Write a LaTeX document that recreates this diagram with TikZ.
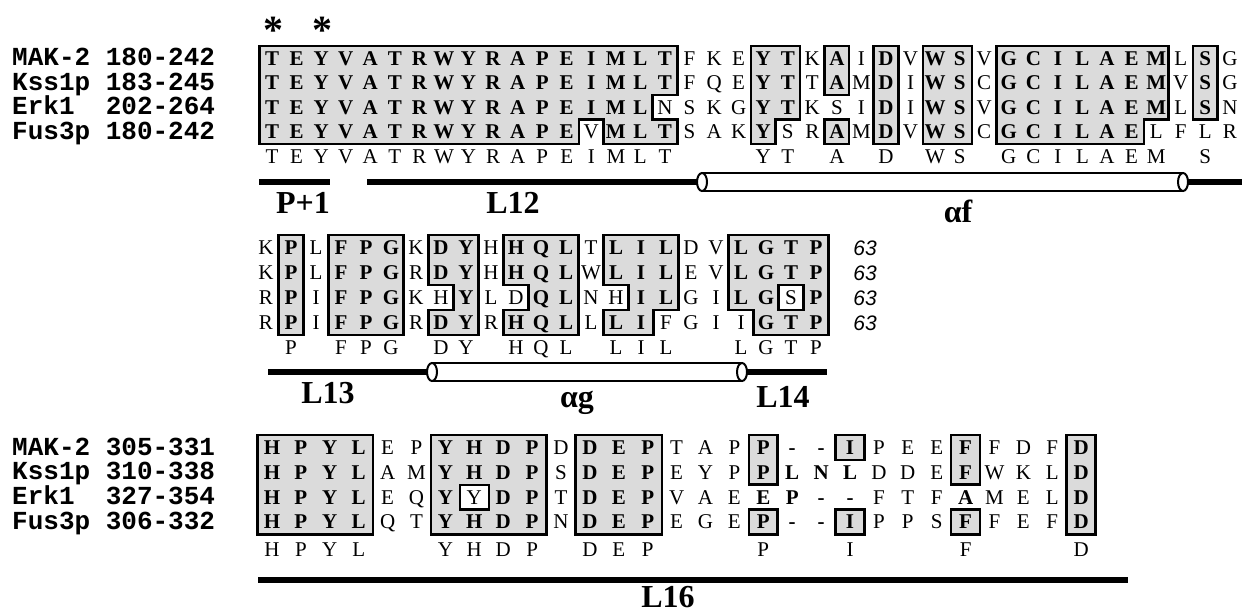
\documentclass[tikz,border=0pt]{standalone}
\usepackage{fontspec}
\setmainfont{Liberation Serif}
\newfontfamily\monofont{Liberation Mono}
\newfontfamily\sansfont{Liberation Sans}
\definecolor{shade}{gray}{0.86}
\newcommand{\seqrow}[3]{%
  \foreach \rl/\rb [count=\cc from 0] in {#3} {
    \node[res] (#1c\cc) at (\cc,#2) {\ifnum\rb=1\bfseries\fi\rl};
  }}
\newcommand{\consrow}[3]{%
  \foreach \cc/\rl in {#3} {
    \node[res] (#1c\cc) at (\cc,#2) {\rl};
  }}
\begin{document}
\begin{tikzpicture}[x=1pt,y=-1pt,
  res/.style={inner sep=0pt,text height=13.9pt,text depth=0pt,font=\fontsize{21}{21}\selectfont},
  shadebox/.style={fill=shade,draw=black,line width=2.6pt,line join=miter},
  holebox/.style={fill=white,draw=black,line width=2.2pt},
  seqlabel/.style={inner sep=0pt,anchor=base west,font={\monofont\fontsize{26}{26}\selectfont\bfseries}},
  helix/.style={line width=2pt,fill=white,draw=black},
  bar/.style={line width=6.5pt},
  reglabel/.style={inner sep=0pt,anchor=base,font={\bfseries\fontsize{32}{32}\selectfont}},
  numlabel/.style={inner sep=0pt,anchor=base,font={\sansfont\itshape\fontsize{21}{21}\selectfont}},
  star/.style={inner sep=0pt,anchor=base,font={\bfseries\fontsize{40}{40}\selectfont}}]
\useasboundingbox (0,0) rectangle (1242,613);
\fill[white] (0,0) rectangle (1242,613);

% asterisks
\node[star] (ast1) at (273,43) {*};
\node[star] (ast2) at (322,43) {*};

% ---------------- labels
\node[seqlabel] (l1a) at (12,65.8) {MAK-2 180-242};
\node[seqlabel] (l1b) at (12,90.3) {Kss1p 183-245};
\node[seqlabel] (l1c) at (12,114.8) {Erk1\ \ 202-264};
\node[seqlabel] (l1d) at (12,139.3) {Fus3p 180-242};
\node[seqlabel] (l3a) at (12,455) {MAK-2 305-331};
\node[seqlabel] (l3b) at (12,479.8) {Kss1p 310-338};
\node[seqlabel] (l3c) at (12,504.6) {Erk1\ \ 327-354};
\node[seqlabel] (l3d) at (12,529.4) {Fus3p 306-332};

% ---------------- block 1
\begin{scope}[shift={(272,58.3)},x=24.56pt,y=-24.5pt]
  \filldraw[shadebox] (-0.5,-0.5) -- (16.5,-0.5) -- (16.5,1.5) -- (15.5,1.5) -- (15.5,2.5) -- (16.5,2.5) -- (16.5,3.5) -- (13.5,3.5) -- (13.5,2.5) -- (12.5,2.5) -- (12.5,3.5) -- (-0.5,3.5) -- cycle;
  \filldraw[shadebox] (19.5,-0.5) -- (21.5,-0.5) -- (21.5,2.5) -- (20.5,2.5) -- (20.5,3.5) -- (19.5,3.5) -- cycle;
  \filldraw[shadebox] (22.5,-0.5) rectangle (23.5,1.5);
  \filldraw[shadebox] (22.5,2.5) rectangle (23.5,3.5);
  \filldraw[shadebox] (24.5,-0.5) rectangle (25.5,3.5);
  \filldraw[shadebox] (26.5,-0.5) rectangle (28.5,3.5);
  \filldraw[shadebox] (29.5,-0.5) -- (36.5,-0.5) -- (36.5,2.5) -- (35.5,2.5) -- (35.5,3.5) -- (29.5,3.5) -- cycle;
  \filldraw[shadebox] (37.5,-0.5) rectangle (38.5,2.5);
  \seqrow{b1r0}{0}{T/1,E/1,Y/1,V/1,A/1,T/1,R/1,W/1,Y/1,R/1,A/1,P/1,E/1,I/1,M/1,L/1,T/1,F/0,K/0,E/0,Y/1,T/1,K/0,A/1,I/0,D/1,V/0,W/1,S/1,V/0,G/1,C/1,I/1,L/1,A/1,E/1,M/1,L/0,S/1,G/0}
  \seqrow{b1r1}{1}{T/1,E/1,Y/1,V/1,A/1,T/1,R/1,W/1,Y/1,R/1,A/1,P/1,E/1,I/1,M/1,L/1,T/1,F/0,Q/0,E/0,Y/1,T/1,T/0,A/1,M/0,D/1,I/0,W/1,S/1,C/0,G/1,C/1,I/1,L/1,A/1,E/1,M/1,V/0,S/1,G/0}
  \seqrow{b1r2}{2}{T/1,E/1,Y/1,V/1,A/1,T/1,R/1,W/1,Y/1,R/1,A/1,P/1,E/1,I/1,M/1,L/1,N/0,S/0,K/0,G/0,Y/1,T/1,K/0,S/0,I/0,D/1,I/0,W/1,S/1,V/0,G/1,C/1,I/1,L/1,A/1,E/1,M/1,L/0,S/1,N/0}
  \seqrow{b1r3}{3}{T/1,E/1,Y/1,V/1,A/1,T/1,R/1,W/1,Y/1,R/1,A/1,P/1,E/1,V/0,M/1,L/1,T/1,S/0,A/0,K/0,Y/1,S/0,R/0,A/1,M/0,D/1,V/0,W/1,S/1,C/0,G/1,C/1,I/1,L/1,A/1,E/1,L/0,F/0,L/0,R/0}
  \consrow{b1cons}{4}{0/T,1/E,2/Y,3/V,4/A,5/T,6/R,7/W,8/Y,9/R,10/A,11/P,12/E,13/I,14/M,15/L,16/T,20/Y,21/T,23/A,25/D,27/W,28/S,30/G,31/C,32/I,33/L,34/A,35/E,36/M,38/S}
\end{scope}
\draw[bar] (259,182) -- (330,182);
\draw[bar] (367,182) -- (702,182);
\draw[bar] (1183,182) -- (1242,182);
\draw[helix] (702,173) rectangle (1183,191);
\draw[helix] (702,182) ellipse [x radius=5, y radius=9];
\draw[helix] (1183,182) ellipse [x radius=5, y radius=9];
\node[reglabel] (p1) at (303,213) {P+1};
\node[reglabel] (l12) at (513,213) {L12};
\node[reglabel] (af) at (958,222) {αf};

% ---------------- block 2
\begin{scope}[shift={(266,247.5)},x=25pt,y=-25pt]
  \filldraw[shadebox] (0.5,-0.5) rectangle (1.5,3.5);
  \filldraw[shadebox] (2.5,-0.5) rectangle (5.5,3.5);
  \filldraw[shadebox] (6.5,-0.5) -- (8.5,-0.5) -- (8.5,3.5) -- (6.5,3.5) -- (6.5,2.5) -- (7.5,2.5) -- (7.5,1.5) -- (6.5,1.5) -- cycle;
  \filldraw[shadebox] (9.5,-0.5) -- (12.5,-0.5) -- (12.5,3.5) -- (9.5,3.5) -- (9.5,2.5) -- (10.5,2.5) -- (10.5,1.5) -- (9.5,1.5) -- cycle;
  \filldraw[shadebox] (13.5,-0.5) -- (16.5,-0.5) -- (16.5,2.5) -- (15.5,2.5) -- (15.5,3.5) -- (13.5,3.5) -- (13.5,2.5) -- (14.5,2.5) -- (14.5,1.5) -- (13.5,1.5) -- cycle;
  \filldraw[shadebox] (18.5,-0.5) -- (22.5,-0.5) -- (22.5,3.5) -- (19.5,3.5) -- (19.5,2.5) -- (18.5,2.5) -- cycle;
  \filldraw[holebox] (20.5,1.5) rectangle (21.5,2.5);
  \seqrow{b2r0}{0}{K/0,P/1,L/0,F/1,P/1,G/1,K/0,D/1,Y/1,H/0,H/1,Q/1,L/1,T/0,L/1,I/1,L/1,D/0,V/0,L/1,G/1,T/1,P/1}
  \seqrow{b2r1}{1}{K/0,P/1,L/0,F/1,P/1,G/1,R/0,D/1,Y/1,H/0,H/1,Q/1,L/1,W/0,L/1,I/1,L/1,E/0,V/0,L/1,G/1,T/1,P/1}
  \seqrow{b2r2}{2}{R/0,P/1,I/0,F/1,P/1,G/1,K/0,H/0,Y/1,L/0,D/0,Q/1,L/1,N/0,H/0,I/1,L/1,G/0,I/0,L/1,G/1,S/0,P/1}
  \seqrow{b2r3}{3}{R/0,P/1,I/0,F/1,P/1,G/1,R/0,D/1,Y/1,R/0,H/1,Q/1,L/1,L/0,L/1,I/1,F/0,G/0,I/0,I/0,G/1,T/1,P/1}
  \consrow{b2cons}{4}{1/P,3/F,4/P,5/G,7/D,8/Y,10/H,11/Q,12/L,14/L,15/I,16/L,19/L,20/G,21/T,22/P}
\end{scope}
\node[numlabel] (n1) at (865,255) {63};
\node[numlabel] (n2) at (865,280) {63};
\node[numlabel] (n3) at (865,305) {63};
\node[numlabel] (n4) at (865,330) {63};
\draw[bar] (268,372) -- (432,372);
\draw[bar] (742,372) -- (827,372);
\draw[helix] (432,363) rectangle (742,381);
\draw[helix] (432,372) ellipse [x radius=5, y radius=9];
\draw[helix] (742,372) ellipse [x radius=5, y radius=9];
\node[reglabel] (l13) at (328,403) {L13};
\node[reglabel] (ag) at (577,407) {αg};
\node[reglabel] (l14) at (783,407) {L14};

% ---------------- block 3
\begin{scope}[shift={(272,447.5)},x=28.9pt,y=-24.8pt]
  \filldraw[shadebox] (-0.5,-0.5) rectangle (3.5,3.5);
  \filldraw[shadebox] (5.5,-0.5) rectangle (9.5,3.5);
  \filldraw[holebox] (6.5,1.5) rectangle (7.5,2.5);
  \filldraw[shadebox] (10.5,-0.5) rectangle (13.5,3.5);
  \filldraw[shadebox] (16.5,-0.5) rectangle (17.5,1.5);
  \filldraw[shadebox] (16.5,2.5) rectangle (17.5,3.5);
  \filldraw[shadebox] (19.5,-0.5) rectangle (20.5,0.5);
  \filldraw[shadebox] (19.5,2.5) rectangle (20.5,3.5);
  \filldraw[shadebox] (23.5,-0.5) rectangle (24.5,1.5);
  \filldraw[shadebox] (23.5,2.5) rectangle (24.5,3.5);
  \filldraw[shadebox] (27.5,-0.5) rectangle (28.5,3.5);
  \seqrow{b3r0}{0}{H/1,P/1,Y/1,L/1,E/0,P/0,Y/1,H/1,D/1,P/1,D/0,D/1,E/1,P/1,T/0,A/0,P/0,P/1,-/1,-/1,I/1,P/0,E/0,E/0,F/1,F/0,D/0,F/0,D/1}
  \seqrow{b3r1}{1}{H/1,P/1,Y/1,L/1,A/0,M/0,Y/1,H/1,D/1,P/1,S/0,D/1,E/1,P/1,E/0,Y/0,P/0,P/1,L/1,N/1,L/1,D/0,D/0,E/0,F/1,W/0,K/0,L/0,D/1}
  \seqrow{b3r2}{2}{H/1,P/1,Y/1,L/1,E/0,Q/0,Y/1,Y/0,D/1,P/1,T/0,D/1,E/1,P/1,V/0,A/0,E/0,E/1,P/1,-/1,-/1,F/0,T/0,F/0,A/1,M/0,E/0,L/0,D/1}
  \seqrow{b3r3}{3}{H/1,P/1,Y/1,L/1,Q/0,T/0,Y/1,H/1,D/1,P/1,N/0,D/1,E/1,P/1,E/0,G/0,E/0,P/1,-/1,-/1,I/1,P/0,P/0,S/0,F/1,F/0,E/0,F/0,D/1}
  \consrow{b3cons}{4.1}{0/H,1/P,2/Y,3/L,6/Y,7/H,8/D,9/P,11/D,12/E,13/P,17/P,20/I,24/F,28/D}
\end{scope}
\draw[bar] (258,580) -- (1128,580);
\node[reglabel] (l16) at (668,607) {L16};
\end{tikzpicture}
\end{document}
